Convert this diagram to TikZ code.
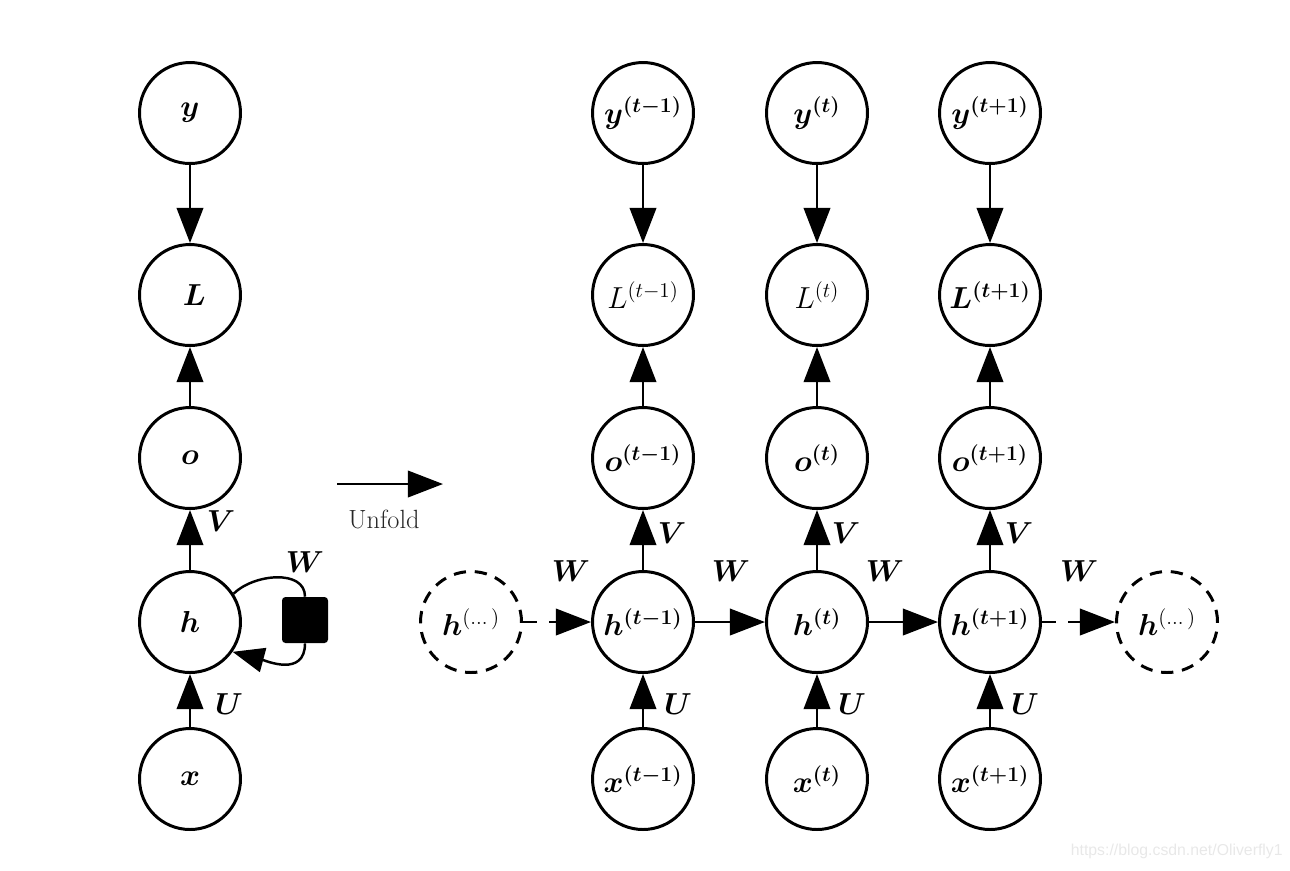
\documentclass[tikz,border=0pt]{standalone}
\usepackage{amsmath,bm}
\usepackage{fontspec}
\newfontfamily\wmfont{Liberation Sans}
\usetikzlibrary{arrows.meta}
\tikzset{
  unit/.style={circle, draw, line width=1.7pt, minimum size=2.02cm, inner sep=0pt, font=\fontsize{17.28}{20}\selectfont},
  ghost/.style={unit, dash pattern=on 7pt off 5pt},
  arr/.style={line width=1.6pt, -{Triangle[length=20pt,width=15pt]}},
  darr/.style={arr, dash pattern=on 8pt off 7pt},
  lbl/.style={inner sep=0pt, font=\fontsize{17.28}{20}\selectfont},
}
\begin{document}
\begin{tikzpicture}[x=0.02cm,y=0.02cm]
\useasboundingbox (0,0) rectangle (1290,-870);
% left folded network
\node[unit] (ly) at (190,-113) {$\bm{y}$};
\node[unit] (lL) at (190,-295) {$\;\bm{L}$};
\node[unit] (lo) at (190,-458) {$\bm{o}$};
\node[unit] (lh) at (190,-622) {$\bm{h}$};
\node[unit] (lx) at (190,-779) {$\bm{x}$};
\draw[arr] (ly) -- (lL);
\draw[arr] (lo) -- (lL);
\draw[arr] (lh) -- (lo);
\draw[arr] (lx) -- (lh);
\node[lbl] (lV) at (221,-521) {$\bm{V}$};
\node[lbl] (lU) at (229,-704) {$\bm{U}$};
\node[lbl] (lW) at (305,-562) {$\bm{W}$};
\node[fill, rounded corners=2pt, minimum size=0.92cm, inner sep=0pt] (sq) at (305,-620) {};
\draw[line width=1.4pt] (lh.33) to[out=45,in=90] (sq.north);
\draw[line width=1.4pt, -{Triangle[length=18pt,width=14pt]}] (sq.south) to[out=-90,in=-15,looseness=1.2] (lh.-35);
% unfold arrow
\coordinate (u1) at (337,-484);
\coordinate (u2) at (443,-484);
\draw[arr] (u1) -- (u2);
\node[inner sep=0pt, font=\fontsize{15}{18}\selectfont, text=black!85] (unf) at (384,-519) {Unfold};
% unfolded network
\foreach \i/\x/\s in {a/643/{t-1}, b/817/{t}, c/990/{t+1}} {
  \node[unit] (y\i) at (\x,-113) {$\bm{y^{(\s)}}$};
  \node[unit] (o\i) at (\x,-458) {$\bm{o^{(\s)}}$};
  \node[unit] (h\i) at (\x,-622) {$\bm{h^{(\s)}}$};
  \node[unit] (x\i) at (\x,-779) {$\bm{x^{(\s)}}$};
}
\node[unit] (La) at (643,-295) {$L^{(t-1)}$};
\node[unit] (Lb) at (817,-295) {$L^{(t)}$};
\node[unit] (Lc) at (990,-295) {$\bm{L^{(t+1)}}$};
\foreach \i/\x in {a/643, b/817, c/990} {
  \draw[arr] (y\i) -- (L\i);
  \draw[arr] (o\i) -- (L\i);
  \draw[arr] (h\i) -- (o\i);
  \draw[arr] (x\i) -- (h\i);
  \node[lbl] (V\i) at (\x+29,-533) {$\bm{V}$};
  \node[lbl] (U\i) at (\x+35,-704) {$\bm{U}$};
}
\node[ghost] (hl) at (471,-622) {$\bm{h}^{(\dots)}$};
\node[ghost] (hr) at (1167,-622) {$\bm{h}^{(\dots)}$};
\draw[darr] (hl) -- (ha);
\draw[arr] (ha) -- (hb);
\draw[arr] (hb) -- (hc);
\draw[darr] (hc) -- (hr);
\node[lbl] (W1) at (571,-571) {$\bm{W}$};
\node[lbl] (W2) at (731,-571) {$\bm{W}$};
\node[lbl] (W3) at (885,-571) {$\bm{W}$};
\node[lbl] (W4) at (1079,-571) {$\bm{W}$};
% watermark
\node[inner sep=0pt, anchor=east, font=\wmfont\fontsize{9}{11}\selectfont, text=black!9] (wm) at (1283,-851) {https://blog.csdn.net/Oliverfly1};
\end{tikzpicture}
\end{document}
